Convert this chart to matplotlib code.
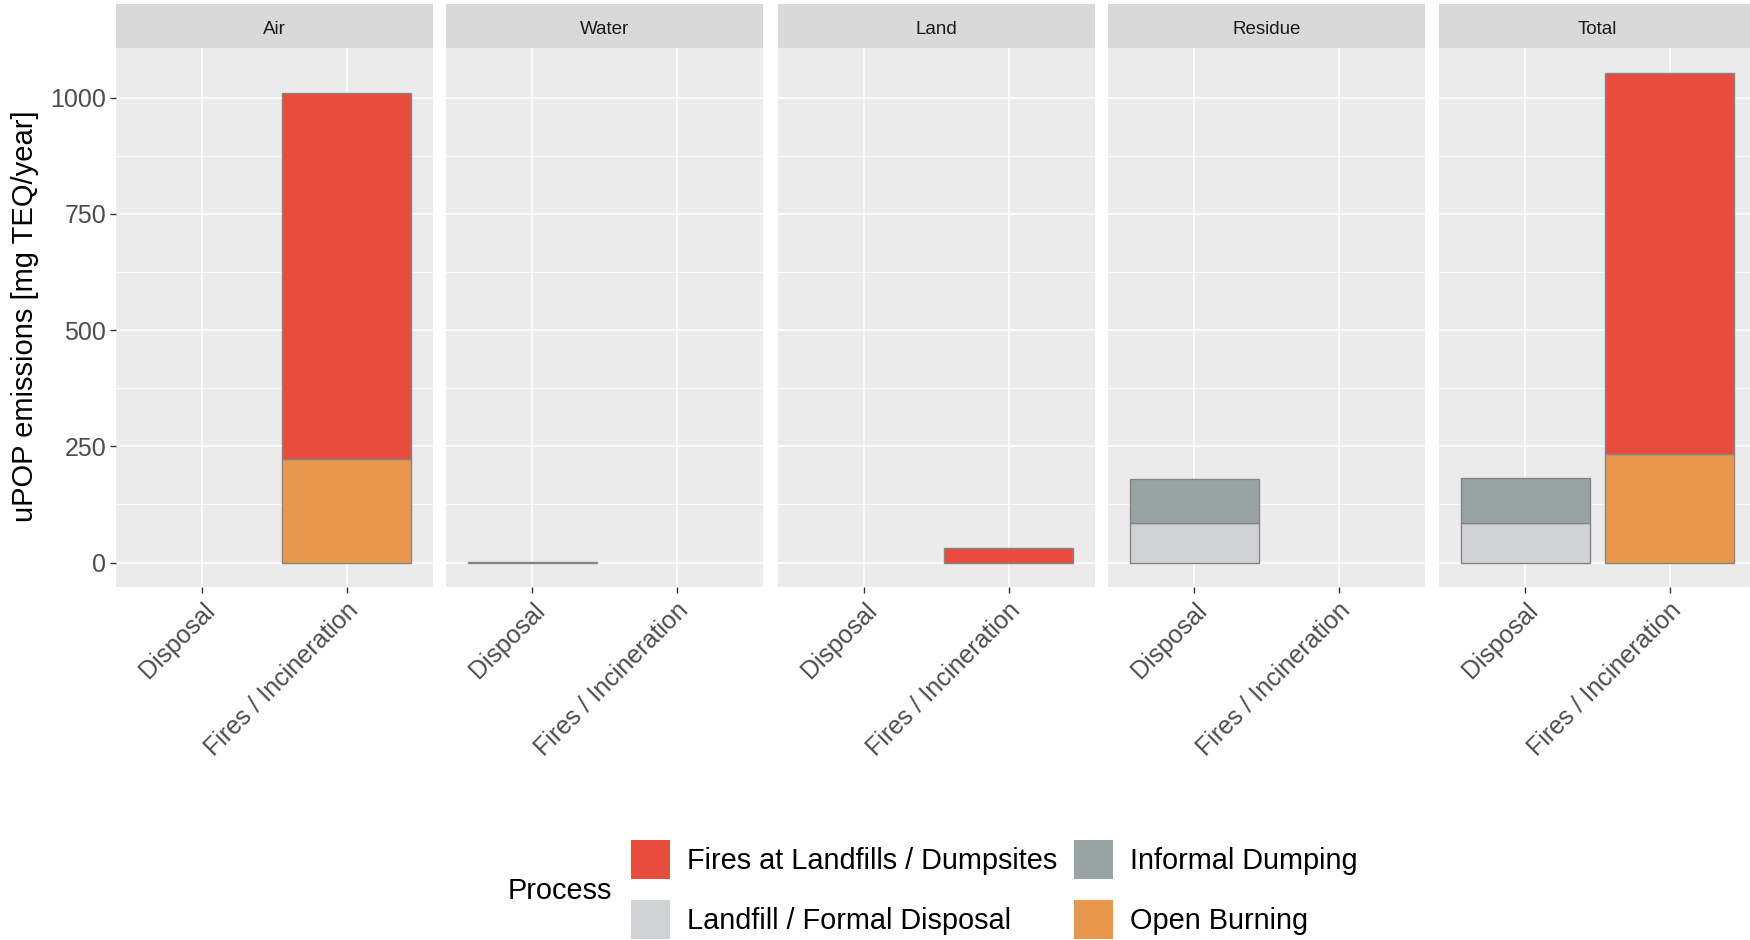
import matplotlib
matplotlib.use('Agg')
import matplotlib.pyplot as plt
import numpy as np
from matplotlib.patches import Patch

plt.rcParams['font.family'] = ['Liberation Sans', 'DejaVu Sans']

# emissions per compartment, values for [Disposal, Fires / Incineration]
compartments = ['Air', 'Water', 'Land', 'Residue', 'Total']
sources = ['Disposal', 'Fires / Incineration']

open_burning = {'Air': [0, 222], 'Water': [0, 0], 'Land': [0, 0], 'Residue': [0, 0], 'Total': [0, 234]}
landfill     = {'Air': [0, 0], 'Water': [0, 0], 'Land': [0, 0], 'Residue': [86, 0], 'Total': [86, 0]}
informal     = {'Air': [0, 0], 'Water': [2, 0], 'Land': [0, 0], 'Residue': [93, 0], 'Total': [95, 0]}
fires        = {'Air': [0, 788], 'Water': [0, 0], 'Land': [0, 32], 'Residue': [0, 0], 'Total': [0, 820]}

# stacked from the bottom up
layers = [
    ('Open Burning', open_burning, '#E9974C'),
    ('Landfill / Formal Disposal', landfill, '#D0D3D4'),
    ('Informal Dumping', informal, '#98A3A4'),
    ('Fires at Landfills / Dumpsites', fires, '#E74C3C'),
]

W, H = 1750, 940
fig = plt.figure(figsize=(W / 100, H / 100), dpi=100)

# y range with ggplot-like 5% expansion
ymax = max(sum(l[1][c][i] for l in layers) for c in compartments for i in range(2))
pad = 0.05 * ymax
ylim = (-pad, ymax + pad)

panel_left = [116, 446, 778, 1108, 1439]
panel_w = 317
strip_top, strip_bot, panel_bot = 4, 48, 587

x = np.arange(1, len(sources) + 1)
for k, comp in enumerate(compartments):
    l = panel_left[k]
    ax = fig.add_axes([l / W, 1 - panel_bot / H, panel_w / W, (panel_bot - strip_bot) / H])
    ax.set_facecolor('#EBEBEB')
    for s in ax.spines.values():
        s.set_visible(False)
    ax.set_xlim(0.4, 2.6)
    ax.set_ylim(*ylim)
    ax.set_yticks([0, 250, 500, 750, 1000])
    ax.set_yticks([125, 375, 625, 875], minor=True)
    ax.grid(which='major', color='white', linewidth=1.2)
    ax.grid(which='minor', axis='y', color='white', linewidth=0.6)
    ax.set_axisbelow(True)

    bottom = np.zeros(len(sources))
    for name, vals, col in layers:
        v = np.array(vals[comp], dtype=float)
        mask = v > 0
        ax.bar(x[mask], v[mask], width=0.9, bottom=bottom[mask], color=col,
               edgecolor='#858585', linewidth=1.0)
        bottom += v

    ax.set_xticks(x)
    ax.set_xticklabels(sources, rotation=45, ha='right', va='top',
                       rotation_mode='anchor', fontsize=18, color='#4D4D4D')
    ax.tick_params(axis='x', length=4, width=1, color='#333333', pad=4)
    if k == 0:
        ax.tick_params(axis='y', length=4, width=1, color='#333333', labelsize=18,
                       labelcolor='#4D4D4D', pad=3)
        ax.tick_params(axis='y', which='minor', length=0)
    else:
        ax.tick_params(axis='y', which='both', length=0, labelleft=False)

    # facet strip
    sax = fig.add_axes([l / W, 1 - strip_bot / H, panel_w / W, (strip_bot - strip_top) / H])
    sax.set_facecolor('#D9D9D9')
    sax.set_xticks([])
    sax.set_yticks([])
    for s in sax.spines.values():
        s.set_visible(False)
    sax.text(0.5, 0.43, comp, ha='center', va='center', fontsize=13.5, color='#1A1A1A',
             transform=sax.transAxes)

fig.text(25 / W, 1 - 316 / H, 'uPOP emissions [mg TEQ/year]', rotation=90,
         ha='center', va='center', fontsize=21)

# legend, filled row by row
order = [3, 1, 2, 0]
handles = [Patch(facecolor=layers[i][2], edgecolor='none', label=layers[i][0]) for i in order]
fig.legend(handles=handles, ncol=2, loc='upper left', bbox_to_anchor=(631 / W, 1 - 840 / H),
           frameon=False, fontsize=20.8, handlelength=1.35, handleheight=1.72,
           labelspacing=0.7, columnspacing=0.6, handletextpad=0.58,
           borderpad=0, borderaxespad=0)
fig.text(508 / W, 1 - 891 / H, 'Process', ha='left', va='center', fontsize=20.8)

fig.savefig('out.png', dpi=100)
